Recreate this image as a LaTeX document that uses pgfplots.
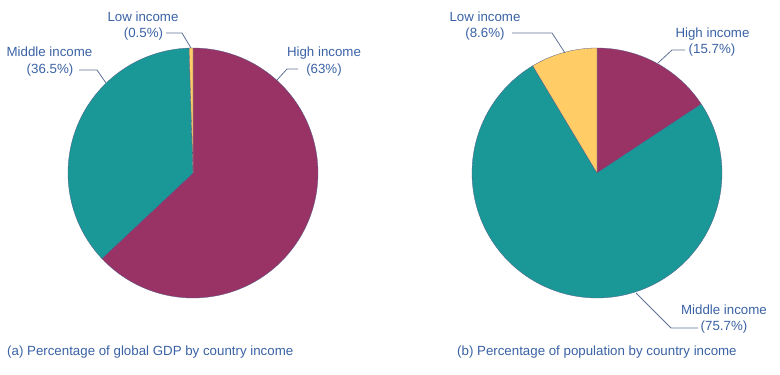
\documentclass[border=0pt]{standalone}
\usepackage{pgfplots}
\pgfplotsset{compat=1.18}
\usepackage{fontspec}
\setmainfont{Liberation Sans}
\definecolor{high}{RGB}{153,50,101}
\definecolor{mid}{RGB}{26,152,152}
\definecolor{low}{RGB}{255,204,102}
\definecolor{txt}{RGB}{58,98,165}
\definecolor{lead}{RGB}{95,112,150}
\definecolor{edge}{RGB}{80,90,135}
\tikzset{lbl/.style={font=\fontsize{13.3}{15}\selectfont, text=txt, anchor=base, inner sep=0pt}}
% slice: cx, cy, cumulative percent before, percent, colour
\newcommand{\slice}[5]{%
  \addplot[fill=#5, draw=edge, line width=0.3pt, domain={90-3.6*(#3+#4)}:{90-3.6*(#3)}, samples=120, variable=\t]
    ({#1+125*cos(\t)},{#2+125*sin(\t)}) -- (axis cs:#1,#2) -- cycle;
}
\begin{document}
\begin{tikzpicture}
\begin{axis}[width=780pt,height=375pt,scale only axis,hide axis,
  xmin=0,xmax=780,ymin=0,ymax=375,clip=false]
\path (axis cs:0,0) (axis cs:780,375);
% (a) Percentage of global GDP: High 63, Middle 36.5, Low 0.5
\slice{193}{202}{0}{63}{high}
\slice{193}{202}{63}{36.5}{mid}
\slice{193}{202}{99.5}{0.5}{low}
% (b) Percentage of population: High 15.7, Middle 75.7, Low 8.6
\slice{597}{202}{0}{15.7}{high}
\slice{597}{202}{15.7}{75.7}{mid}
\slice{597}{202}{91.4}{8.6}{low}
% leader lines
\addplot[lead, line width=0.8pt] coordinates {(166,342) (182,342) (191,327)};
\addplot[lead, line width=0.8pt] coordinates {(79,305) (97,305) (106,292)};
\addplot[lead, line width=0.8pt] coordinates {(298,306) (287,306) (277,295)};
\addplot[lead, line width=0.8pt] coordinates {(512,342) (552,342) (565,322)};
\addplot[lead, line width=0.8pt] coordinates {(685,325) (672,325) (658,312)};
\addplot[lead, line width=0.8pt] coordinates {(698,47) (671,47) (636,82)};
% labels
\node[lbl] at (axis cs:143,353) {Low income};
\node[lbl] at (axis cs:143.5,337) {(0.5\%)};
\node[lbl] at (axis cs:49.5,318) {Middle income};
\node[lbl] at (axis cs:50,301) {(36.5\%)};
\node[lbl] at (axis cs:324,318) {High income};
\node[lbl] at (axis cs:324,301) {(63\%)};
\node[lbl] at (axis cs:485,353) {Low income};
\node[lbl] at (axis cs:485,337) {(8.6\%)};
\node[lbl] at (axis cs:712.5,337) {High income};
\node[lbl] at (axis cs:712,321) {(15.7\%)};
\node[lbl] at (axis cs:724,60) {Middle income};
\node[lbl] at (axis cs:724,44) {(75.7\%)};
\node[lbl, anchor=base west] at (axis cs:7,19) {(a) Percentage of global GDP by country income};
\node[lbl, anchor=base west] at (axis cs:457,19) {(b) Percentage of population by country income};
\end{axis}
\end{tikzpicture}
\end{document}
